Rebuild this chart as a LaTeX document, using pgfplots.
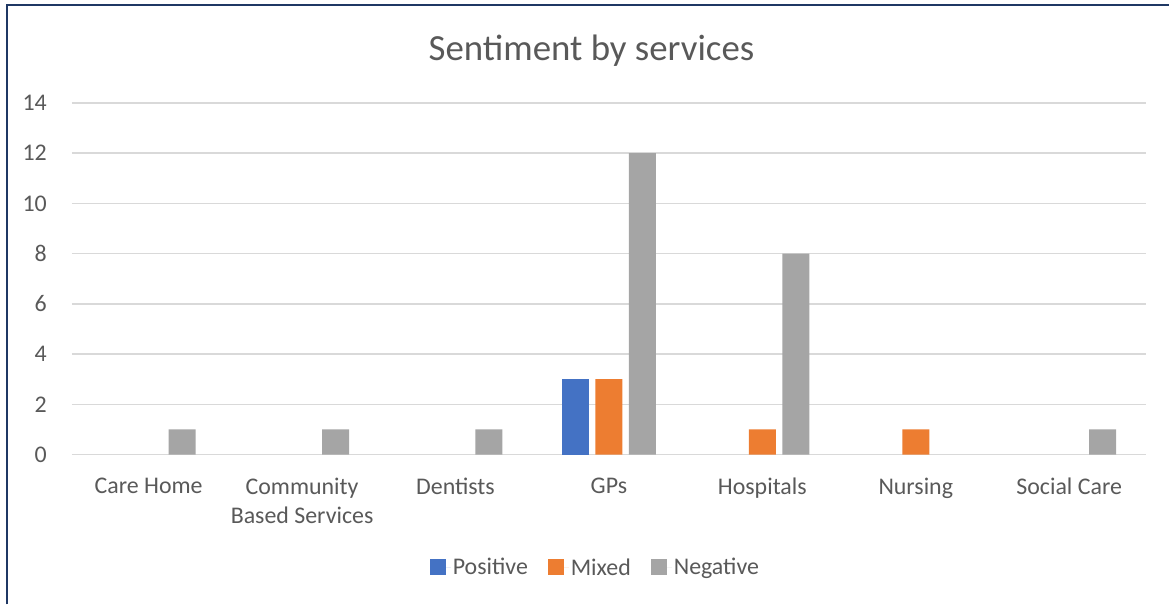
\documentclass[border=0pt]{standalone}
\usepackage{pgfplots}
\pgfplotsset{compat=1.18}
\usepackage{fontspec}
\setmainfont{Carlito}
\definecolor{txt}{HTML}{595959}
\definecolor{pos}{HTML}{4472C4}
\definecolor{mix}{HTML}{ED7D31}
\definecolor{neg}{HTML}{A5A5A5}
\definecolor{gridc}{HTML}{D9D9D9}
\definecolor{navy}{HTML}{1F3864}
\begin{document}
\begin{tikzpicture}
\path (0bp,0bp) rectangle (1170bp,605bp);
\draw[navy, line width=2.2bp] (7bp,0bp) -- (7bp,600bp) -- (1170bp,600bp);
\begin{axis}[
  at={(72bp,150bp)}, anchor=south west,
  scale only axis, width=1075bp, height=352bp,
  ybar=6.5bp, bar width=27bp,
  xmin=-0.5, xmax=6.5, ymin=0, ymax=14,
  xtick={0,1,2,3,4,5,6},
  xticklabels={Care Home, {Community\\Based Services}, Dentists, GPs, Hospitals, Nursing, Social Care},
  ytick={0,2,...,14},
  axis line style={draw=none},
  major tick length=0pt,
  ymajorgrids, grid style={gridc, line width=1.5bp},
  /pgf/number format/assume math mode=true,
  tick label style={font=\fontsize{24}{29}\selectfont, text=txt},
  xticklabel style={align=center, inner sep=0pt, yshift=-23bp},
  yticklabel style={inner sep=0pt, xshift=-25bp},
  legend style={at={(0.4874,-0.321)}, anchor=center, draw=none, fill=none,
    font=\fontsize{24}{29}\selectfont, text=txt, legend columns=3,
    /tikz/every even column/.append style={column sep=18bp}},
  legend image code/.code={\fill[#1] (0bp,-8bp) rectangle (16bp,8bp); \path (16bp,0bp) -- (21bp,0bp);},
  legend cell align=left,
]
\addplot[draw=none, fill=pos] coordinates {(3,3)};
\addplot[draw=none, fill=mix] coordinates {(3,3) (4,1) (5,1)};
\addplot[draw=none, fill=neg] coordinates {(0,1) (1,1) (2,1) (3,12) (4,8) (6,1)};
\legend{Positive, Mixed, Negative}
\end{axis}
\node[text=txt, font=\fontsize{37}{44}\selectfont] at (592bp,554bp) {Sentiment by services};
\end{tikzpicture}
\end{document}
